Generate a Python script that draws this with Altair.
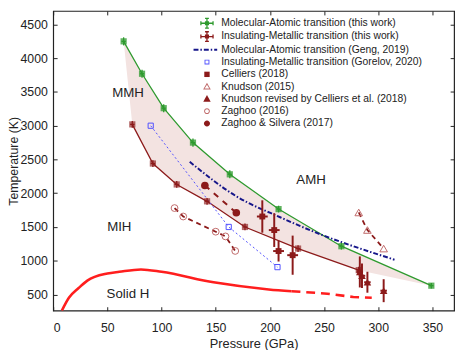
import altair as alt
import pandas as pd
import numpy as np

# ---------------- data ----------------
green_p = [65, 82, 102, 129, 163, 208, 266, 349]
green_t = [4250, 3770, 3260, 2750, 2280, 1765, 1215, 630]
green_perr = [2, 2, 2, 2, 2, 2, 2, 2]
green_terr = [60, 60, 60, 60, 60, 50, 50, 40]

red_p = [73, 92, 114, 142, 177, 226, 282]
red_t = [3020, 2440, 2130, 1880, 1500, 1180, 860]
red_perr = [2, 2, 2, 2, 2, 2, 2]
red_terr = [50, 50, 50, 50, 50, 50, 50]

geng_p = [126, 169, 210, 250, 268, 315]
geng_t = [2465, 1955, 1640, 1370, 1265, 1015]

gorelov_p = [90, 162, 207]
gorelov_t = [3000, 1500, 905]

celliers_p = [193, 204, 208, 221]
celliers_t = [1655, 1454, 1143, 1082]
celliers_perr = [5, 5, 5, 5]
celliers_terr = [240, 250, 155, 290]

knudson_p = [282, 290, 305]
knudson_t = [1715, 1455, 1180]

knudrev_p = [283, 285, 290, 305]
knudrev_t = [834, 777, 681, 556]
knudrev_perr = [3, 3, 3, 3]
knudrev_terr = [230, 180, 155, 170]

zaghoo16_p = [112, 120, 150, 159, 168]
zaghoo16_t = [1780, 1655, 1430, 1360, 1145]

zaghoo17_p = [140, 169]
zaghoo17_t = [2115, 1710]

solid_p = [8, 14.5, 23.5, 31.5, 50, 61, 81, 100, 148, 199, 220]
solid_t = [260, 450, 595, 705, 810, 835, 870, 835, 680, 575, 548]
solid_dash_p = [220, 253, 277, 294]
solid_dash_t = [548, 512, 462, 452]

labels_txt = ["MMH", "MIH", "AMH", "Solid H"]
labels_p = [69, 61, 238, 69]
labels_t = [3490, 1500, 2194, 499]

legend_names = [
    "Molecular-Atomic transition (this work)",
    "Insulating-Metallic transition (this work)",
    "Molecular-Atomic transition (Geng, 2019)",
    "Insulating-Metallic transition (Gorelov, 2020)",
    "Celliers (2018)",
    "Knudson (2015)",
    "Knudson revised by Celliers et al. (2018)",
    "Zaghoo (2016)",
    "Zaghoo & Silvera (2017)",
]

x_ticks = [0, 50, 100, 150, 200, 250, 300, 350]
y_ticks = [500, 1000, 1500, 2000, 2500, 3000, 3500, 4000, 4500]

# ---------------- styles ----------------
GREEN = "#2e9a2e"
DRED = "#8c1a1a"
NAVY = "#16168a"
BLUE = "#5050ff"
OPEN = "#c06a6a"
RED = "#ff1e1e"
FILL = "#f3e3e1"
INK = "#222222"

W, H = 408, 305
xs = alt.Scale(domain=[0, 370], nice=False, zero=False)
ys = alt.Scale(domain=[260, 4700], nice=False, zero=False)


def X(f="p", axis=None):
    return alt.X(f"{f}:Q", scale=xs, axis=axis)


def Y(f="t", axis=None):
    return alt.Y(f"{f}:Q", scale=ys, axis=axis)


def df(p, t, perr=None, terr=None):
    d = pd.DataFrame({"p": p, "t": t})
    if perr is not None:
        d["p1"] = d["p"] - np.array(perr)
        d["p2"] = d["p"] + np.array(perr)
        d["t1"] = d["t"] - np.array(terr)
        d["t2"] = d["t"] + np.array(terr)
    return d


# axes -------------------------------------------------------------
main_x_axis = alt.Axis(orient="bottom", values=x_ticks, tickSize=0, domain=False, grid=False,
                       labelPadding=11, labelFontSize=12.5, format="d", title="Pressure (GPa)",
                       titleFontSize=13, titleFontWeight="normal", titlePadding=4)
main_y_axis = alt.Axis(orient="left", values=y_ticks, tickSize=0, domain=False, grid=False,
                       labelPadding=6, labelFontSize=12.5, format="d", title="Temperature (K)",
                       titleFontSize=12.5, titleFontWeight="normal", titleAngle=270,
                       titleBaseline="bottom", titleAlign="center", titleX=-33, titleY=H / 2)
in_x_bottom = alt.Axis(orient="top", offset=-H, values=x_ticks, tickSize=4, labels=False,
                       domain=False, grid=False, title=None)
in_y_left = alt.Axis(orient="right", offset=-W, values=y_ticks, tickSize=4, labels=False,
                     domain=False, grid=False, title=None)
in_x_top = alt.Axis(orient="bottom", offset=-H, values=x_ticks, tickSize=4, labels=False,
                    domain=False, grid=False, title=None)
in_y_right = alt.Axis(orient="left", offset=-W, values=y_ticks, tickSize=4, labels=False,
                      domain=False, grid=False, title=None)

# shaded region between the two transitions --------------------------
lo_p = [green_p[0]] + red_p + [green_p[-1]]
lo_t = [green_t[0]] + red_t + [green_t[-1]]
grid_p = sorted(set(green_p) | set(lo_p))
area_df = pd.DataFrame({
    "p": grid_p,
    "hi": np.interp(grid_p, green_p, green_t),
    "lo": np.interp(grid_p, lo_p, lo_t),
})
area = alt.Chart(area_df).mark_area(color=FILL, opacity=1, clip=True).encode(
    x=X(axis=main_x_axis), y=Y("hi", axis=main_y_axis), y2="lo:Q")

# melting curve
solid = alt.Chart(df(solid_p, solid_t)).mark_line(
    color=RED, strokeWidth=2.6, interpolate="monotone", clip=True).encode(x=X(), y=Y())
solid_d = alt.Chart(df(solid_dash_p, solid_dash_t)).mark_line(
    color=RED, strokeWidth=2.6, strokeDash=[9, 6], clip=True).encode(x=X(), y=Y())

# this work: green
g = df(green_p, green_t, green_perr, green_terr)
g_line = alt.Chart(g).mark_line(color=GREEN, strokeWidth=1.3).encode(
    x=X(axis=in_x_bottom), y=Y(axis=in_y_left))
g_ebx = alt.Chart(g).mark_rule(color=GREEN, strokeWidth=1.3).encode(x=X("p1"), x2="p2:Q", y=Y())
g_eby = alt.Chart(g).mark_rule(color=GREEN, strokeWidth=1.3).encode(x=X(), y=Y("t1"), y2="t2:Q")
g_pt = alt.Chart(g).mark_point(shape="square", filled=True, color=GREEN, size=40, opacity=0.75).encode(
    x=X(), y=Y())

# this work: dark red
r = df(red_p, red_t, red_perr, red_terr)
r_line = alt.Chart(r).mark_line(color=DRED, strokeWidth=1.3).encode(
    x=X(axis=in_x_top), y=Y(axis=in_y_right))
r_ebx = alt.Chart(r).mark_rule(color=DRED, strokeWidth=1.3).encode(x=X("p1"), x2="p2:Q", y=Y())
r_eby = alt.Chart(r).mark_rule(color=DRED, strokeWidth=1.3).encode(x=X(), y=Y("t1"), y2="t2:Q")
r_pt = alt.Chart(r).mark_point(shape="square", filled=True, color=DRED, size=40, opacity=0.65).encode(
    x=X(), y=Y())

# Geng 2019
geng = alt.Chart(df(geng_p, geng_t)).mark_line(
    color=NAVY, strokeWidth=2, strokeDash=[5, 2, 1.5, 2], interpolate="monotone").encode(x=X(), y=Y())

# Gorelov 2020
gor_df = df(gorelov_p, gorelov_t)
gor_line = alt.Chart(gor_df).mark_line(color=BLUE, strokeWidth=1, strokeDash=[2, 2.5]).encode(x=X(), y=Y())
gor_pt = alt.Chart(gor_df).mark_point(shape="square", filled=False, color=BLUE, size=28,
                                      strokeWidth=1, opacity=1).encode(x=X(), y=Y())

# Zaghoo 2016
z16 = df(zaghoo16_p, zaghoo16_t)
z16_line = alt.Chart(z16).mark_line(color=DRED, strokeWidth=1.8, strokeDash=[5, 4]).encode(x=X(), y=Y())
z16_pt = alt.Chart(z16).mark_point(shape="circle", filled=False, color=OPEN, size=48,
                                   strokeWidth=1, opacity=1).encode(x=X(), y=Y())

# Zaghoo & Silvera 2017
z17 = df(zaghoo17_p, zaghoo17_t)
z17_line = alt.Chart(z17).mark_line(color=DRED, strokeWidth=2, strokeDash=[6, 6]).encode(x=X(), y=Y())
z17_pt = alt.Chart(z17).mark_point(shape="circle", filled=True, color=DRED, size=60, opacity=1).encode(
    x=X(), y=Y())

# Knudson 2015
kn = df(knudson_p, knudson_t)
kn_line = alt.Chart(kn).mark_line(color=DRED, strokeWidth=1.8, strokeDash=[5, 4]).encode(x=X(), y=Y())
kn_pt = alt.Chart(kn).mark_point(shape="triangle-up", filled=False, color=OPEN, size=60,
                                 strokeWidth=1, opacity=1).encode(x=X(), y=Y())

# Celliers 2018
ce = df(celliers_p, celliers_t, celliers_perr, celliers_terr)
ce_ebx = alt.Chart(ce).mark_rule(color=DRED, strokeWidth=2).encode(x=X("p1"), x2="p2:Q", y=Y())
ce_eby = alt.Chart(ce).mark_rule(color=DRED, strokeWidth=2).encode(x=X(), y=Y("t1"), y2="t2:Q")
ce_pt = alt.Chart(ce).mark_point(shape="square", filled=True, color=DRED, size=36, opacity=1).encode(
    x=X(), y=Y())

# Knudson revised
kr = df(knudrev_p, knudrev_t, knudrev_perr, knudrev_terr)
kr_ebx = alt.Chart(kr).mark_rule(color=DRED, strokeWidth=2).encode(x=X("p1"), x2="p2:Q", y=Y())
kr_eby = alt.Chart(kr).mark_rule(color=DRED, strokeWidth=2).encode(x=X(), y=Y("t1"), y2="t2:Q")
kr_pt = alt.Chart(kr).mark_point(shape="triangle-up", filled=True, color=DRED, size=60, opacity=1).encode(
    x=X(), y=Y())

# region labels
lab = alt.Chart(pd.DataFrame({"p": labels_p, "t": labels_t, "s": labels_txt})).mark_text(
    fontSize=13.5, color=INK).encode(x=X(), y=Y(), text="s:N")

# legend symbols: filled outlines (no stroke), unit = sqrt(symbolSize)/2 px
EB = ("M-1.05,-0.1H1.05V0.1H-1.05Z M-0.1,-0.85H0.1V0.85H-0.1Z "
      "M-1.05,-0.3H-0.85V0.3H-1.05Z M0.85,-0.3H1.05V0.3H0.85Z "
      "M-0.3,-0.85H0.3V-0.65H-0.3Z M-0.3,0.65H0.3V0.85H-0.3Z "
      "M-0.32,-0.32H0.32V0.32H-0.32Z")
DASHDOT = ("M-2.1,-0.15H-1.33V0.15H-2.1Z M-1.03,-0.15H-0.8V0.15H-1.03Z "
           "M-0.49,-0.15H0.28V0.15H-0.49Z M0.59,-0.15H0.82V0.15H0.59Z "
           "M1.13,-0.15H1.6V0.15H1.13Z")
SQS = "M-0.38,-0.38H0.38V0.38H-0.38Z M-0.24,-0.24V0.24H0.24V-0.24Z"
SQ = "M-0.42,-0.42H0.42V0.42H-0.42Z"
TRI_O = "M0,-0.62L0.6,0.45H-0.6Z M0,-0.3L-0.36,0.3H0.36Z"
TRI = "M0,-0.6L0.58,0.44H-0.58Z"
CIRC_O = ("M0.45,0A0.45,0.45 0 1,1 -0.45,0A0.45,0.45 0 1,1 0.45,0Z "
          "M0.3,0A0.3,0.3 0 1,0 -0.3,0A0.3,0.3 0 1,0 0.3,0Z")
CIRC = "M0.47,0A0.47,0.47 0 1,1 -0.47,0A0.47,0.47 0 1,1 0.47,0Z"
legend_shapes = [EB, EB, DASHDOT, SQS, SQ, TRI_O, TRI, CIRC_O, CIRC]
legend_colors = [GREEN, DRED, NAVY, BLUE, DRED, OPEN, DRED, OPEN, DRED]

leg_legend = alt.Legend(orient="none", legendX=150, legendY=6, title=None, labelFontSize=10.5,
                        symbolSize=169, rowPadding=0.5, labelOffset=8, padding=0,
                        symbolStrokeWidth=0, labelLimit=400, labelColor=INK)
leg = alt.Chart(pd.DataFrame({"series": legend_names, "p": x_ticks + [0], "t": [1000] * 9})).mark_point(
    filled=True, strokeWidth=0, opacity=1).encode(
    x=X(), y=Y(),
    shape=alt.Shape("series:N", scale=alt.Scale(domain=legend_names, range=legend_shapes),
                    legend=leg_legend, sort=legend_names),
    color=alt.Color("series:N", scale=alt.Scale(domain=legend_names, range=legend_colors),
                    legend=leg_legend, sort=legend_names),
).transform_filter("false")

chart = alt.layer(
    area, solid, solid_d,
    g_line, r_line, geng, gor_line,
    z16_line, z17_line, kn_line,
    g_ebx, g_eby, g_pt, r_ebx, r_eby, r_pt,
    gor_pt, z16_pt, z17_pt, kn_pt,
    ce_ebx, ce_eby, ce_pt, kr_ebx, kr_eby, kr_pt,
    lab, leg,
).resolve_axis(x="independent", y="independent").properties(
    width=W, height=H, autosize=alt.AutoSizeParams(type="none"),
    padding={"left": 46, "top": 0, "right": 5, "bottom": 37},
).configure(font="Liberation Sans").configure_view(
    stroke=INK, strokeWidth=1.2
).configure_axis(labelColor=INK, titleColor=INK, tickColor=INK, tickWidth=1)

chart.save("out.html", embed_options={"renderer": "svg", "actions": False})
